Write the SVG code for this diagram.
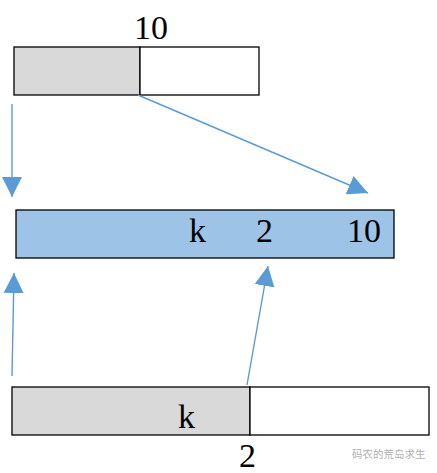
<svg xmlns="http://www.w3.org/2000/svg" width="437" height="473" viewBox="0 0 437 473">
<style>
.box{stroke:#000;stroke-width:1.3}
.gray{fill:#d9d9d9}
.white{fill:#fff}
.blue{fill:#9dc3e6}
.t{font-family:"Liberation Serif",serif;font-size:34px;fill:#000}
.c{stroke:#5b9bd5;stroke-width:1.4;fill:none}
.wm{font-family:"Noto Sans CJK SC",sans-serif;font-size:10.5px;fill:#b0b0b0}
</style>
<defs>
<marker id="ah" markerUnits="userSpaceOnUse" markerWidth="22" markerHeight="22" viewBox="0 0 22 22" refX="20" refY="11" orient="auto">
<path d="M0,1 L20,11 L0,21 Z" fill="#5b9bd5"/>
</marker>
</defs>
<rect width="437" height="473" fill="#fff"/>
<g id="top">
<rect class="box gray" x="14" y="47" width="126" height="48"/>
<rect class="box white" x="140" y="47" width="119" height="48"/>
<text class="t" x="134" y="39">10</text>
</g>
<g id="middle">
<rect class="box blue" x="16" y="210" width="378" height="48"/>
<text class="t" x="189" y="242">k</text>
<text class="t" x="256" y="242">2</text>
<text class="t" x="347" y="242">10</text>
</g>
<g id="bottom">
<rect class="box gray" x="12" y="387" width="238" height="48"/>
<rect class="box white" x="250" y="387" width="179" height="48"/>
<text class="t" x="178" y="428">k</text>
<text class="t" x="239" y="467">2</text>
</g>
<g id="connectors">
<line class="c" x1="12" y1="104" x2="12" y2="197" marker-end="url(#ah)"/>
<line class="c" x1="138" y1="95" x2="368" y2="193" marker-end="url(#ah)"/>
<line class="c" x1="12" y1="376" x2="14" y2="273" marker-end="url(#ah)"/>
<line class="c" x1="247" y1="385" x2="268" y2="266" marker-end="url(#ah)"/>
</g>
<g id="watermark">
<text class="wm" x="352" y="458">码农的荒岛求生</text>
</g>
</svg>
